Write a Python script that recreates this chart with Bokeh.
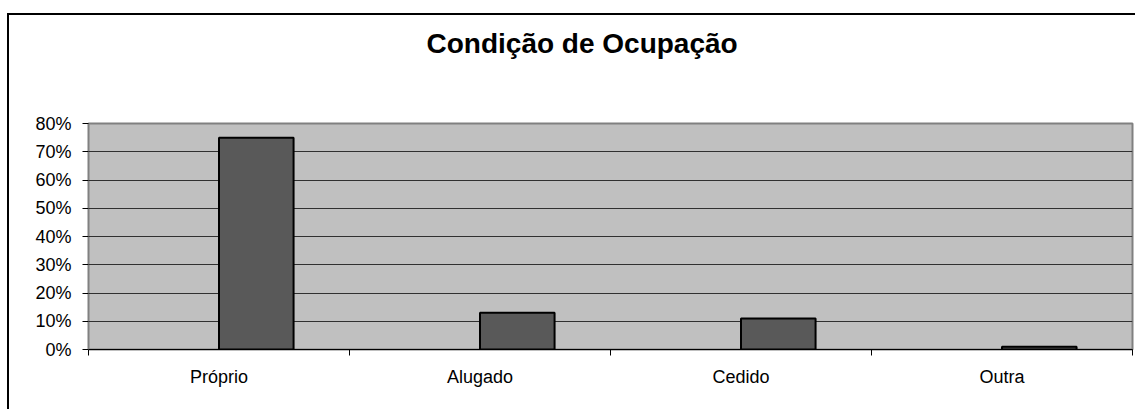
from bokeh.plotting import figure
from bokeh.models import Range1d, FixedTicker, NumeralTickFormatter, ColumnDataSource
from bokeh.transform import dodge
from bokeh.embed import file_html
from bokeh.resources import INLINE

categories = ["Próprio", "Alugado", "Cedido", "Outra"]
values = [0.75, 0.13, 0.11, 0.01]
y_ticks = [0.0, 0.1, 0.2, 0.3, 0.4, 0.5, 0.6, 0.7, 0.8]
title_text = "Condição de Ocupação"

n = len(categories)
centers = [i + 0.5 for i in range(n)]
bar_w = 1 / 3.5  # Excel-like: two series slots + 150% gap, second slot used
src = ColumnDataSource(data=dict(x=centers, v=values, cat=categories))

p = figure(width=1128, height=396, output_backend="svg", toolbar_location=None,
           x_range=Range1d(0, n), y_range=Range1d(0, 0.8),
           min_border_left=81, min_border_right=3, min_border_top=110, min_border_bottom=60)
p.styles = {"margin-left": "7px", "margin-top": "13px",
            "box-shadow": "inset 2px 2px 0 0 #000000"}

# title raised above the frame by trailing blank lines
p.title.text = title_text + "\n\n"
p.title.align = "left"
p.title.offset = 338
p.title.standoff = 6
p.title.vertical_align = "bottom"
p.title.text_font = "Liberation Sans"
p.title.text_font_size = "28px"
p.title.text_font_style = "bold"
p.title.text_color = "#000000"

p.background_fill_color = "#C0C0C0"
p.border_fill_color = None
p.outline_line_color = "#808080"
p.outline_line_width = 2

p.vbar(x=dodge("x", bar_w / 2, range=p.x_range), top="v", width=bar_w, source=src,
       fill_color="#595959", line_color="#000000", line_width=2)

# x axis: labels at category centres, ticks at category boundaries
xa = p.xaxis[0]
xa.ticker = FixedTicker(ticks=centers, minor_ticks=list(range(n + 1)))
xa.major_label_overrides = {c: lab for c, lab in zip(centers, categories)}
xa.major_tick_out = 0
xa.major_tick_in = 0
xa.minor_tick_out = 6
xa.minor_tick_in = 0
xa.minor_tick_line_color = "#000000"
xa.axis_line_color = "#000000"
xa.major_label_text_font = "Liberation Sans"
xa.major_label_text_font_size = "18px"
xa.major_label_text_color = "#000000"
xa.major_label_standoff = 11

ya = p.yaxis[0]
ya.ticker = FixedTicker(ticks=y_ticks)
ya.formatter = NumeralTickFormatter(format="0%")
ya.major_tick_out = 6
ya.major_tick_in = 0
ya.minor_tick_line_color = None
ya.major_tick_line_color = "#000000"
ya.axis_line_color = "#808080"
ya.major_label_text_font = "Liberation Sans"
ya.major_label_text_font_size = "18px"
ya.major_label_text_color = "#000000"
ya.major_label_standoff = 11

p.xgrid.grid_line_color = None
p.ygrid.grid_line_color = "#303030"
p.ygrid.grid_line_width = 1

open("out.html", "w").write(file_html(p, INLINE))
